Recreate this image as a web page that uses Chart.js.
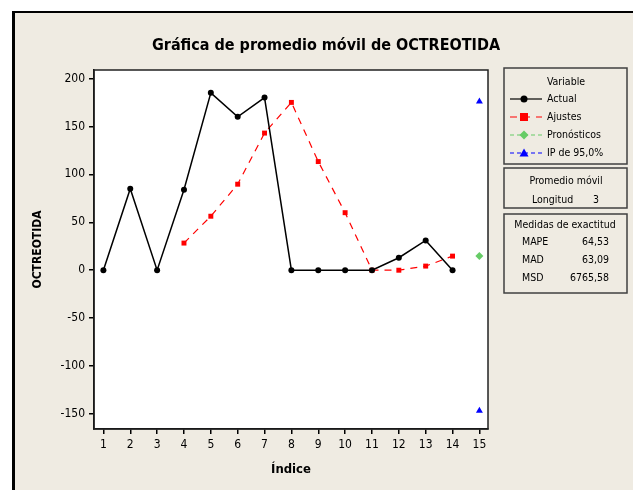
<!DOCTYPE html>
<html>
<head>
<meta charset="utf-8">
<style>
  html, body { margin: 0; padding: 0; background: #fff; }
  canvas { display: block; }
</style>
<script src="https://cdn.jsdelivr.net/npm/chart.js@4/dist/chart.umd.min.js"></script>
</head>
<body>
<canvas id="chartMA" width="633" height="490"></canvas>
<script>
// values
const indices = [1, 2, 3, 4, 5, 6, 7, 8, 9, 10, 11, 12, 13, 14];
const actual = [0, 85, 0, 84, 185, 160, 180, 0, 0, 0, 0, 13, 31, 0];
const ajustes = [null, null, null, 28.3, 56.3, 89.7, 143, 175, 113.3, 60, 0, 0, 4.3, 14.7];
const forecastIndex = [15];
const pronosticos = [14.7];
const ipLimits = [175.9, -146.5];

const titleText = 'Gráfica de promedio móvil de OCTREOTIDA';
const xTitle = 'Índice';
const yTitle = 'OCTREOTIDA';
const maInfo = [['Promedio móvil', ''], ['Longitud', '3']];
const accuracy = [['MAPE', '64,53'], ['MAD', '63,09'], ['MSD', '6765,58']];

const FONT = "'DejaVu Sans Condensed', 'DejaVu Sans', sans-serif";
const BEIGE = '#efebe2';

function pts(xs, ys) {
    return xs.map((x, i) => ({ x: x, y: ys[i] }));
}

function drawMarker(ctx, style, x, y, r, color) {
    ctx.save();
    ctx.fillStyle = color;
    ctx.setLineDash([]);
    ctx.beginPath();
    if (style === 'circle') {
        ctx.arc(x, y, r, 0, Math.PI * 2);
    } else if (style === 'rect') {
        ctx.rect(x - r, y - r, r * 2, r * 2);
    } else if (style === 'rectRot') {
        ctx.moveTo(x, y - r); ctx.lineTo(x + r, y); ctx.lineTo(x, y + r); ctx.lineTo(x - r, y);
        ctx.closePath();
    } else if (style === 'triangle') {
        ctx.moveTo(x, y - r); ctx.lineTo(x + r, y + r * 0.8); ctx.lineTo(x - r, y + r * 0.8);
        ctx.closePath();
    }
    ctx.fill();
    ctx.restore();
}

const framePlugin = {
    id: 'frame',
    beforeDraw(chart) {
        const ctx = chart.ctx;
        const a = chart.chartArea;
        ctx.save();
        ctx.fillStyle = '#fff';
        ctx.fillRect(0, 0, chart.width, chart.height);
        ctx.fillStyle = BEIGE;
        ctx.fillRect(12, 11, chart.width - 12, chart.height - 11);
        ctx.fillStyle = '#000';
        ctx.fillRect(12, 11, chart.width - 12, 2);
        ctx.fillRect(12, 11, 3, chart.height - 11);
        ctx.fillStyle = '#fff';
        ctx.fillRect(a.left, a.top, a.right - a.left, a.bottom - a.top);
        ctx.restore();
    },
    afterDraw(chart) {
        const ctx = chart.ctx;
        const a = chart.chartArea;
        ctx.save();
        ctx.strokeStyle = '#222';
        ctx.lineWidth = 1.5;
        ctx.strokeRect(a.left, a.top, a.right - a.left, a.bottom - a.top);

        // title
        ctx.fillStyle = '#000';
        ctx.font = 'bold 16px ' + FONT;
        ctx.textAlign = 'center';
        ctx.textBaseline = 'middle';
        ctx.fillText(titleText, 326, 46);

        // legend boxes
        const bx = 504, bw = 123;
        ctx.strokeStyle = '#404040';
        ctx.lineWidth = 1.5;
        ctx.fillStyle = BEIGE;
        [[68, 96], [168, 40], [214, 79]].forEach(b => {
            ctx.fillRect(bx, b[0], bw, b[1]);
            ctx.strokeRect(bx, b[0], bw, b[1]);
        });

        ctx.font = '10.5px ' + FONT;
        ctx.fillStyle = '#000';
        ctx.textAlign = 'center';
        ctx.fillText('Variable', 566, 82);
        chart.data.datasets.forEach((ds, i) => {
            const y = 99 + i * 18;
            ctx.save();
            ctx.strokeStyle = ds.borderColor;
            ctx.lineWidth = 1.2;
            ctx.setLineDash(ds.borderDash || []);
            ctx.beginPath();
            ctx.moveTo(510, y);
            ctx.lineTo(542, y);
            ctx.stroke();
            ctx.restore();
            drawMarker(ctx, ds.pointStyle, 524, y, ds.pointRadius + 0.5, ds.pointBackgroundColor);
            ctx.fillStyle = '#000';
            ctx.textAlign = 'left';
            ctx.fillText(ds.label, 547, y);
        });

        ctx.textAlign = 'center';
        ctx.fillText(maInfo[0][0], 566, 181);
        ctx.textAlign = 'left';
        ctx.fillText(maInfo[1][0], 532, 200);
        ctx.fillText(maInfo[1][1], 593, 200);

        ctx.textAlign = 'center';
        ctx.fillText('Medidas de exactitud', 565, 225);
        accuracy.forEach((row, i) => {
            const y = 242 + i * 18;
            ctx.textAlign = 'left';
            ctx.fillText(row[0], 522, y);
            ctx.textAlign = 'right';
            ctx.fillText(row[1], 609, y);
        });
        ctx.restore();
    }
};

const ctx = document.getElementById('chartMA').getContext('2d');
new Chart(ctx, {
    type: 'scatter',
    data: {
        datasets: [
            {
                label: 'Actual',
                data: pts(indices, actual),
                showLine: true,
                borderColor: '#000',
                borderWidth: 1.5,
                pointStyle: 'circle',
                pointRadius: 3,
                pointBackgroundColor: '#000',
                pointBorderWidth: 0,
            },
            {
                label: 'Ajustes',
                data: pts(indices, ajustes),
                showLine: true,
                spanGaps: false,
                borderColor: '#ff0000',
                borderWidth: 1.2,
                borderDash: [7, 6],
                pointStyle: 'rect',
                pointRadius: 3.5,
                pointBackgroundColor: '#ff0000',
                pointBorderWidth: 0,
            },
            {
                label: 'Pronósticos',
                data: pts(forecastIndex, pronosticos),
                showLine: false,
                borderColor: '#66cc66',
                borderDash: [4, 3],
                pointStyle: 'rectRot',
                pointRadius: 4,
                pointBackgroundColor: '#66cc66',
                pointBorderWidth: 0,
            },
            {
                label: 'IP de 95,0%',
                data: pts([15, 15], ipLimits),
                showLine: false,
                borderColor: '#0000ff',
                borderDash: [4, 3],
                pointStyle: 'triangle',
                pointRadius: 4,
                pointBackgroundColor: '#0000ff',
                pointBorderWidth: 0,
            },
        ],
    },
    options: {
        responsive: false,
        animation: false,
        devicePixelRatio: 1,
        layout: { padding: { top: 70, right: 145, bottom: 0, left: 0 } },
        plugins: {
            legend: { display: false },
            tooltip: { enabled: false },
        },
        scales: {
            x: {
                type: 'linear',
                min: 0.65,
                max: 15.32,
                afterFit: s => { s.height = 61; },
                ticks: {
                    stepSize: 1,
                    includeBounds: false,
                    color: '#000',
                    padding: 4,
                    font: { family: FONT, size: 12 },
                },
                grid: { drawOnChartArea: false, drawTicks: true, tickLength: 5, color: '#000', lineWidth: 1.5 },
                border: { display: true, color: '#000', width: 1.5 },
                title: {
                    display: true,
                    text: xTitle,
                    color: '#000',
                    font: { family: FONT, size: 13, weight: 'bold' },
                    padding: { top: 0, bottom: 13 },
                },
            },
            y: {
                min: -165.6,
                max: 208.8,
                afterFit: s => { s.width = 94; },
                ticks: {
                    stepSize: 50,
                    includeBounds: false,
                    color: '#000',
                    padding: 4,
                    font: { family: FONT, size: 12 },
                },
                grid: { drawOnChartArea: false, drawTicks: true, tickLength: 5, color: '#000', lineWidth: 1.5 },
                border: { display: true, color: '#000', width: 1.5 },
                title: {
                    display: true,
                    text: yTitle,
                    color: '#000',
                    font: { family: FONT, size: 12, weight: 'bold' },
                    padding: { top: 31, bottom: 0 },
                },
            },
        },
    },
    plugins: [framePlugin],
});
</script>
</body>
</html>
